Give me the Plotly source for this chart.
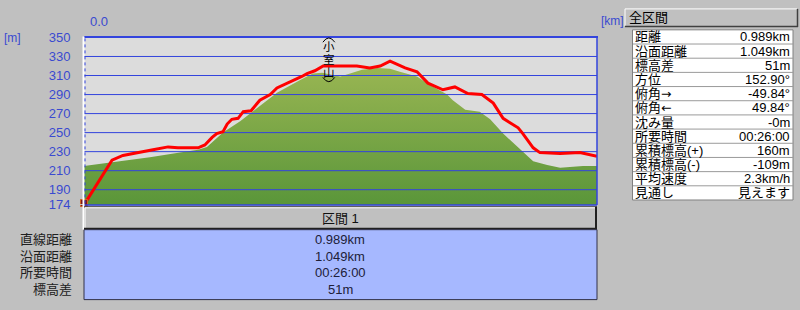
import plotly.graph_objects as go

W, H = 800, 310

# ---------------- data ----------------
route_km = [0.000, 0.054, 0.075, 0.108, 0.133, 0.162, 0.181, 0.220, 0.233, 0.247,
            0.256, 0.268, 0.276, 0.285, 0.297, 0.307, 0.322, 0.339, 0.359, 0.372,
            0.393, 0.420, 0.430, 0.445, 0.461, 0.494, 0.526, 0.551, 0.571, 0.590,
            0.619, 0.642, 0.663, 0.692, 0.715, 0.740, 0.767, 0.789, 0.808, 0.837,
            0.846, 0.866, 0.879, 0.918, 0.956, 0.989]
route_elev = [174, 221, 226, 229, 232, 235, 234, 234, 237, 245,
              249, 251, 259, 264, 265, 272, 273, 284, 290, 297,
              302, 309, 312, 315, 320, 320, 320, 318, 320, 325,
              318, 314, 302, 295, 298, 291, 290, 281, 265, 255,
              249, 234, 229, 228, 229, 225]

terrain_km = [0.000, 0.056, 0.127, 0.185, 0.220, 0.237, 0.268, 0.301, 0.330, 0.372,
              0.416, 0.441, 0.459, 0.474, 0.494, 0.513, 0.536, 0.565, 0.590, 0.609,
              0.642, 0.667, 0.700, 0.711, 0.735, 0.763, 0.783, 0.808, 0.841, 0.866,
              0.893, 0.918, 0.943, 0.962, 0.989]
terrain_elev = [215, 219, 224, 229, 232, 235, 250, 262, 274, 292,
                305, 312, 313, 311, 309, 312, 316, 318, 317, 314,
                309, 300, 290, 284, 274, 272, 264, 249, 232, 220,
                216, 213, 214, 215, 215]

y_ticks = [174, 190, 210, 230, 250, 270, 290, 310, 330, 350]
x_tick_label = "0.0"
peak_name = ["小", "室", "山"]
peak_km = 0.472

panel_title = "全区間"
stat_labels = ["距離", "沿面距離", "標高差", "方位", "俯角→", "俯角←", "沈み量",
               "所要時間", "累積標高(+)", "累積標高(-)", "平均速度", "見通し"]
stat_values = ["0.989km", "1.049km", "51m", "152.90°", "-49.84°", "49.84°", "-0m",
               "00:26:00", "160m", "-109m", "2.3km/h", "見えます"]

section_title = "区間 1"
section_labels = ["直線距離", "沿面距離", "所要時間", "標高差"]
section_values = ["0.989km", "1.049km", "00:26:00", "51m"]

# ---------------- style ----------------
FONT = "Liberation Sans, Noto Sans CJK JP"
BLUE = "#3344dd"
TICKBLUE = "#3a4ad0"
PAPER = "#c0c0c0"
PLOTBG = "#dcdcdc"

X0, X1, Y0, Y1 = 84, 597, 32, 208   # plot area in pixels
XMAX = 0.989


def px(x):
    return x / W


def py(y):
    return 1 - y / H


def wide_arrows(s):
    for a in ("→", "←"):
        s = s.replace(a, f'<span style="font-family:DejaVu Sans;'
                         f'font-size:12.5px">{a}</span>')
    return s


fig = go.Figure()

# terrain
fig.add_trace(go.Scatter(
    x=terrain_km, y=terrain_elev, mode="lines", fill="tozeroy",
    line=dict(width=0, color="rgba(0,0,0,0)"),
    fillgradient=dict(type="vertical",
                      colorscale=[[0, "#569438"], [1, "#98b552"]],
                      start=174, stop=318),
    hoverinfo="skip", showlegend=False))

# grid lines (drawn over terrain, below route)
gx, gy = [], []
for v in y_ticks[1:-1]:
    gx += [0, XMAX, None]
    gy += [v, v, None]
fig.add_trace(go.Scatter(x=gx, y=gy, mode="lines",
                         line=dict(color=BLUE, width=1),
                         hoverinfo="skip", showlegend=False))

# route
fig.add_trace(go.Scatter(x=route_km, y=route_elev, mode="lines",
                         line=dict(color="#ff0000", width=3),
                         hoverinfo="skip", showlegend=False))

# hiker marker at start
fig.add_trace(go.Scatter(x=[route_km[0]], y=[route_elev[0] + 2], mode="markers",
                         marker=dict(symbol="square", size=7, color="#7a1a1a",
                                     line=dict(color="#d06020", width=1)),
                         cliponaxis=False, hoverinfo="skip", showlegend=False))

shapes = []
ann = []


def rect(x0, y0, x1, y1, fill, line=None, lw=0, layer="above"):
    shapes.append(dict(type="rect", xref="paper", yref="paper",
                       x0=px(x0), x1=px(x1), y0=py(y1), y1=py(y0),
                       fillcolor=fill, line=dict(color=line or fill, width=lw),
                       layer=layer))


def line(x0, y0, x1, y1, color, lw=1, dash="solid"):
    shapes.append(dict(type="line", xref="paper", yref="paper",
                       x0=px(x0), x1=px(x1), y0=py(y0), y1=py(y1),
                       line=dict(color=color, width=lw, dash=dash), layer="above"))


def text(x, y, s, xanchor="left", size=13, color="#000000"):
    ann.append(dict(xref="paper", yref="paper", x=px(x), y=py(y), text=s,
                    xanchor=xanchor, yanchor="middle", showarrow=False,
                    font=dict(family=FONT, size=size, color=color)))


# plot borders
line(X0, 31.5, X1 + 1, 31.5, BLUE, 2)
line(X1, 31, X1, Y1, BLUE, 1.5)
line(X0, Y1, X1, Y1, BLUE, 1.5)
line(83.5, 31, 83.5, 234, "#ffffff", 2)
line(85, 33, 85, Y1, BLUE, 1, "dot")

# axis unit labels
text(2, 33, "[m]", size=12, color=TICKBLUE)
text(599, 15, "[km]", size=12, color=TICKBLUE)
ann.append(dict(xref="x", yref="paper", x=0, y=py(15), text=x_tick_label,
                xanchor="left", yanchor="middle", xshift=4, showarrow=False,
                font=dict(family=FONT, size=13, color=TICKBLUE)))

# peak label (vertical writing) with bracket arcs
for ch, yy in zip(peak_name, [42, 55.5, 69]):
    ann.append(dict(xref="x", yref="paper", x=peak_km, y=py(yy), text=ch,
                    showarrow=False, xanchor="center", yanchor="middle",
                    font=dict(family=FONT, size=11.5, color="#000000")))
for ya, yb in ((37, 32.5), (74, 78.5)):
    shapes.append(dict(
        type="path", xref="x", yref="paper",
        path=(f"M {peak_km - 0.0115},{py(ya)} "
              f"Q {peak_km},{py(yb) + (py(yb) - py(ya))} "
              f"{peak_km + 0.0115},{py(ya)}"),
        line=dict(color="#000000", width=1), layer="above"))

# right panel button
rect(625, 2, 797, 20, PAPER)
line(625, 2, 797, 2, "#ffffff", 1)
line(625, 2, 625, 20, "#ffffff", 1)
line(625, 20.5, 798, 20.5, "#404040", 1.5)
line(797.5, 2, 797.5, 21, "#404040", 1.5)
text(627, 11, panel_title, size=13)

# right panel table
RH = 14.9
TT = 24
NR = len(stat_labels)
rect(632.5, TT, 793, TT + RH * NR, "#ffffff", "#808080", 1)
for i in range(1, NR):
    line(633, TT + RH * i, 793, TT + RH * i, "#9a9a9a", 1)
for i, (lab, val) in enumerate(zip(stat_labels, stat_values)):
    yc = TT + RH * i + RH / 2
    text(633, yc, wide_arrows(lab), size=13)
    text(792, yc, val, xanchor="right", size=13)

# section header bar
rect(84, 210, 597, 234, PAPER)
line(84, 210, 597, 210, "#303030", 1)
line(85, 211, 595, 211, "#ffffff", 1)
line(85, 211, 85, 233, "#ffffff", 1)
line(84, 233, 597, 233, "#202020", 2)
line(596, 210, 596, 234, "#202020", 2)
text(340.5, 222, section_title, xanchor="center", size=13, color="#101010")

# section info area
SH = 17.3
rect(84, 234, 597, 307.5, "#a6b8ff", "#303048", 1)
for i, (lab, val) in enumerate(zip(section_labels, section_values)):
    yc = 244.5 + SH * i
    text(74, yc, lab, xanchor="right", size=13, color="#202020")
    text(340, yc, val, xanchor="center", size=13, color="#202038")

fig.update_layout(
    width=W, height=H, autosize=False,
    margin=dict(l=0, r=0, t=0, b=0),
    paper_bgcolor=PAPER, plot_bgcolor=PLOTBG,
    showlegend=False, hovermode=False,
    xaxis=dict(domain=[px(X0), px(X1)], range=[0, XMAX], showgrid=False,
               zeroline=False, showticklabels=False, showline=False,
               fixedrange=True),
    yaxis=dict(domain=[py(Y1), py(Y0)], range=[174, 350], tickvals=y_ticks,
               showgrid=False, zeroline=False, showline=False,
               ticks="outside", ticklen=10, tickcolor=PAPER,
               tickfont=dict(family=FONT, size=13, color=TICKBLUE),
               fixedrange=True),
    shapes=shapes, annotations=ann,
)

fig.write_html("out.html")
